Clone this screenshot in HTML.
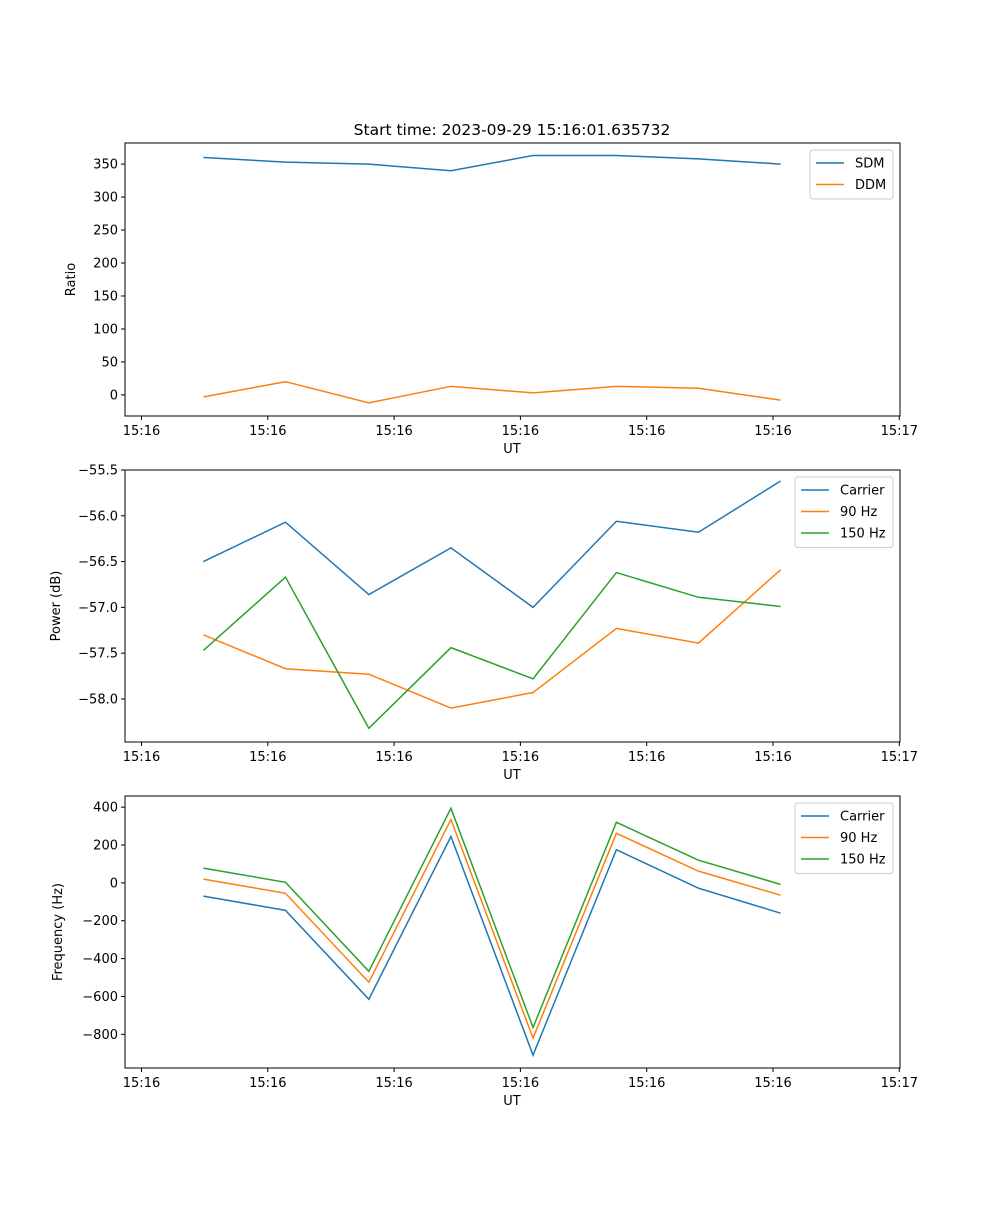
<!DOCTYPE html>
<html><head><meta charset="utf-8"><style>
body{margin:0;background:#fff;}
svg text{font-family:"DejaVu Sans","Liberation Sans",sans-serif;font-size:13px;fill:#000;}
</style></head><body>
<svg id="fig" width="1000" height="1200" xmlns="http://www.w3.org/2000/svg">
<rect width="1000" height="1200" fill="#fff"/>
<text x="512" y="135" text-anchor="middle" style="font-size:15.5px">Start time: 2023-09-29 15:16:01.635732</text>
</svg>
<script>
const times = [0.49, 1.14, 1.80, 2.45, 3.10, 3.76, 4.41, 5.06];
const xTickVals = [0, 1, 2, 3, 4, 5, 6];
const xTickLabels = ["15:16","15:16","15:16","15:16","15:16","15:16","15:17"];
const sdm = [360, 353, 350, 340, 363, 363, 358, 350];
const ddm = [-3, 20, -12, 13, 3, 13, 10, -8];
const powCarrier = [-56.50, -56.07, -56.86, -56.35, -57.00, -56.06, -56.18, -55.62];
const pow90 = [-57.30, -57.67, -57.73, -58.10, -57.93, -57.23, -57.39, -56.59];
const pow150 = [-57.47, -56.67, -58.32, -57.44, -57.78, -56.62, -56.89, -56.99];
const freqCarrier = [-70, -145, -615, 245, -910, 175, -28, -160];
const freq90 = [20, -55, -525, 335, -820, 262, 62, -65];
const freq150 = [78, 3, -467, 394, -764, 320, 120, -8];
const ticks1 = [0, 50, 100, 150, 200, 250, 300, 350];
const ticks2 = [-58.0, -57.5, -57.0, -56.5, -56.0, -55.5];
const ticks3 = [-800, -600, -400, -200, 0, 200, 400];

const NS = "http://www.w3.org/2000/svg";
const svg = document.getElementById("fig");
const C = ["#1f77b4", "#ff7f0e", "#2ca02c"];
const L = 125, R = 900;
const xs = t => 141.5 + t * 126.3;
function mk(tag, attrs, parent) {
  const e = document.createElementNS(NS, tag);
  for (const k in attrs) e.setAttribute(k, attrs[k]);
  (parent || svg).appendChild(e);
  return e;
}
function fmt(v, dec) {
  const s = Math.abs(v).toFixed(dec);
  return (v < 0 ? "\u2212" : "") + s;
}
function panel(name, top, bot, ymin, ymax, yticks, dec, ylabel, ylx, series, names, legendW) {
  const g = mk("g", {});
  
  
  const ys = v => bot - (v - ymin) / (ymax - ymin) * (bot - top);
  series.forEach((s, si) => {
    const p = mk("polyline", {points: s.map((v, i) => xs(times[i]) + "," + ys(v)).join(" "), fill: "none", stroke: C[si], "stroke-width": 1.5}, g);
    
    
  });
  const fr = mk("rect", {x: L, y: top, width: R - L, height: bot - top, fill: "none", stroke: "#000", "stroke-width": 1}, g);
  
  
  xTickVals.forEach((t, i) => {
    const x = xs(t);
    mk("line", {x1: x, x2: x, y1: bot, y2: bot + 4, stroke: "#000"}, g);
    const tx = mk("text", {x: x, y: bot + 19, "text-anchor": "middle"}, g);
    tx.textContent = xTickLabels[i];
    
    
  });
  const xl = mk("text", {x: 512, y: bot + 37, "text-anchor": "middle"}, g);
  xl.textContent = "UT";
  
  
  yticks.forEach(v => {
    const y = ys(v);
    mk("line", {x1: L - 4, x2: L, y1: y, y2: y, stroke: "#000"}, g);
    const tx = mk("text", {x: L - 7, y: y + 4.5, "text-anchor": "end"}, g);
    tx.textContent = fmt(v, dec);
    
    
  });
  const yc = (top + bot) / 2;
  const yl = mk("text", {x: ylx, y: yc, "text-anchor": "middle", transform: "rotate(-90 " + ylx + " " + yc + ")"}, g);
  yl.textContent = ylabel;
  
  
  const lx = R - 7 - legendW, ly = top + 7, lh = 6 + names.length * 21.5;
  const lg = mk("g", {}, g);
  
  
  mk("rect", {x: lx, y: ly, width: legendW, height: lh, rx: 3, fill: "#fff", "fill-opacity": 0.8, stroke: "#ccc"}, lg);
  names.forEach((n, i) => {
    const yy = ly + 13 + i * 21.5;
    mk("line", {x1: lx + 6, x2: lx + 34, y1: yy, y2: yy, stroke: C[i], "stroke-width": 1.5}, lg);
    const t = mk("text", {x: lx + 45, y: yy + 4.5}, lg);
    t.textContent = n;
    
    
  });
}
panel("ratio-panel", 143, 416, -32, 382, ticks1, 0, "Ratio", 75, [sdm, ddm], ["SDM", "DDM"], 83);
panel("power-panel", 470, 742, -58.47, -55.5, ticks2, 1, "Power (dB)", 60, [powCarrier, pow90, pow150], ["Carrier", "90 Hz", "150 Hz"], 98);
panel("frequency-panel", 796, 1068, -978, 459, ticks3, 0, "Frequency (Hz)", 62, [freqCarrier, freq90, freq150], ["Carrier", "90 Hz", "150 Hz"], 98);
</script>
</body></html>
